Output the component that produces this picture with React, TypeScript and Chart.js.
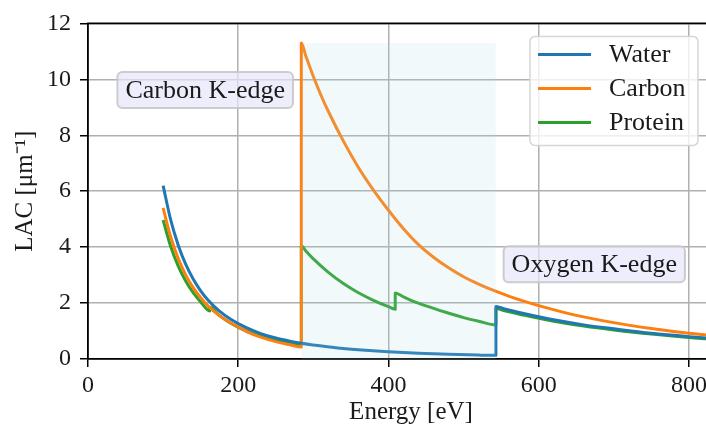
import React, { useEffect, useRef } from "react";
import { Chart, registerables } from "chart.js";

Chart.register(...registerables);

// ---- data ----
const waterEnergy = [100, 110, 120, 130, 140, 150, 160, 175, 190, 210, 230, 250, 270, 284, 300, 330, 360, 400, 440, 480, 520, 543, 543, 555, 580, 620, 660, 700, 750, 800, 860];
const waterLAC = [6.2, 4.98, 4.08, 3.39, 2.86, 2.44, 2.1, 1.71, 1.42, 1.13, 0.91, 0.75, 0.63, 0.56, 0.5, 0.4, 0.33, 0.26, 0.21, 0.17, 0.14, 0.13, 1.88, 1.79, 1.63, 1.4, 1.22, 1.08, 0.92, 0.8, 0.68];

const carbonEnergy = [100, 110, 120, 130, 140, 150, 160, 175, 190, 200, 210, 230, 250, 270, 284, 284, 290, 300, 310, 320, 340, 360, 380, 400, 420, 440, 460, 480, 500, 520, 540, 560, 580, 600, 650, 700, 750, 800, 860];
const carbonLAC = [5.4, 4.37, 3.6, 3.01, 2.55, 2.19, 1.89, 1.55, 1.29, 1.15, 1.0, 0.78, 0.62, 0.5, 0.43, 11.3, 10.83, 10.1, 9.44, 8.85, 7.79, 6.85, 6.04, 5.32, 4.66, 4.09, 3.64, 3.26, 2.94, 2.68, 2.45, 2.25, 2.07, 1.91, 1.56, 1.3, 1.09, 0.92, 0.77];

const proteinEnergy = [100, 110, 120, 130, 140, 150, 162, 162, 175, 190, 210, 230, 250, 270, 284, 284, 290, 300, 320, 340, 360, 380, 400, 409, 409, 420, 430, 450, 475, 500, 520, 543, 543, 555, 580, 620, 660, 700, 750, 800, 860];
const proteinLAC = [4.97, 4.03, 3.33, 2.79, 2.37, 2.04, 1.72, 1.85, 1.55, 1.28, 1.01, 0.82, 0.67, 0.56, 0.5, 4.05, 3.86, 3.58, 3.1, 2.7, 2.37, 2.1, 1.87, 1.78, 2.36, 2.22, 2.1, 1.9, 1.68, 1.48, 1.35, 1.22, 1.81, 1.72, 1.57, 1.35, 1.18, 1.04, 0.89, 0.77, 0.66];

// water window shading (carbon K-edge to oxygen K-edge)
const windowEnergy = [284, 543];
const windowLAC = [11.3, 11.3];

const seriesLabels = ["Water", "Carbon", "Protein"];
const seriesColors = ["#1f77b4", "#ff7f0e", "#2ca02c"];

const annotationTexts = ["Carbon K-edge", "Oxygen K-edge"];
const annotationEnergy = [156, 674];
const annotationLAC = [9.62, 3.39];

const xTicksMax = 860;
const yMax = 12;

const FONT = "'Liberation Serif', 'Times New Roman', serif";

function pts(xs: number[], ys: number[]) {
  return xs.map((x, i) => ({ x, y: ys[i] }));
}

function roundRect(ctx: CanvasRenderingContext2D, x: number, y: number, w: number, h: number, r: number) {
  ctx.beginPath();
  ctx.moveTo(x + r, y);
  ctx.lineTo(x + w - r, y);
  ctx.arcTo(x + w, y, x + w, y + r, r);
  ctx.lineTo(x + w, y + h - r);
  ctx.arcTo(x + w, y + h, x + w - r, y + h, r);
  ctx.lineTo(x + r, y + h);
  ctx.arcTo(x, y + h, x, y + h - r, r);
  ctx.lineTo(x, y + r);
  ctx.arcTo(x, y, x + r, y, r);
  ctx.closePath();
}

const decorPlugin = {
  id: "decor",
  afterDatasetsDraw(chart: any) {
    const ctx: CanvasRenderingContext2D = chart.ctx;
    const area = chart.chartArea;
    const xs = chart.scales.x;
    const ys = chart.scales.y;
    ctx.save();
    // top spine
    ctx.strokeStyle = "#000";
    ctx.lineWidth = 1.8;
    ctx.beginPath();
    ctx.moveTo(area.left - 0.9, area.top);
    ctx.lineTo(area.right, area.top);
    ctx.stroke();

    // annotations
    ctx.font = `26px ${FONT}`;
    ctx.textAlign = "center";
    ctx.textBaseline = "middle";
    annotationTexts.forEach((t, i) => {
      const cx = xs.getPixelForValue(annotationEnergy[i]);
      const cy = ys.getPixelForValue(annotationLAC[i]);
      const tw = ctx.measureText(t).width;
      const w = tw + 16;
      const h = 36;
      roundRect(ctx, cx - w / 2, cy - h / 2, w, h, 5);
      ctx.fillStyle = "rgba(230,230,250,0.7)";
      ctx.fill();
      ctx.strokeStyle = "rgba(200,200,200,0.9)";
      ctx.lineWidth = 2;
      ctx.stroke();
      ctx.fillStyle = "#1a1a1a";
      ctx.fillText(t, cx, cy + 1);
    });

    // legend
    const lx = area.left + 442;
    const ly = area.top + 13;
    const lw = 168;
    const lh = 109;
    roundRect(ctx, lx, ly, lw, lh, 5);
    ctx.fillStyle = "rgba(255,255,255,0.8)";
    ctx.fill();
    ctx.strokeStyle = "#d6d6d6";
    ctx.lineWidth = 1.5;
    ctx.stroke();
    ctx.textAlign = "left";
    ctx.textBaseline = "middle";
    seriesLabels.forEach((lab, i) => {
      const y = ly + 18 + i * 34;
      ctx.strokeStyle = seriesColors[i];
      ctx.lineWidth = 3;
      ctx.beginPath();
      ctx.moveTo(lx + 8, y);
      ctx.lineTo(lx + 61, y);
      ctx.stroke();
      ctx.fillStyle = "#1a1a1a";
      ctx.fillText(lab, lx + 79, y + 1);
    });
    ctx.restore();
  },
};

export default function App() {
  const ref = useRef<HTMLCanvasElement | null>(null);
  useEffect(() => {
    if (!ref.current) return;
    const lineDs = (i: number, xs: number[], ys: number[]) => ({
      label: seriesLabels[i],
      data: pts(xs, ys),
      borderColor: seriesColors[i],
      backgroundColor: seriesColors[i],
      borderWidth: 3,
      pointRadius: 0,
      cubicInterpolationMode: "monotone" as const,
      fill: false,
      borderJoinStyle: "round" as const,
    });
    const chart = new Chart(ref.current, {
      type: "line",
      data: {
        datasets: [
          {
            label: "",
            data: pts(windowEnergy, windowLAC),
            borderWidth: 0,
            borderColor: "rgba(0,0,0,0)",
            backgroundColor: "rgba(173,216,230,0.16)",
            pointRadius: 0,
            fill: "origin",
          },
          lineDs(0, waterEnergy, waterLAC),
          lineDs(1, carbonEnergy, carbonLAC),
          lineDs(2, proteinEnergy, proteinLAC),
        ],
      },
      options: {
        responsive: false,
        animation: false,
        devicePixelRatio: 1,
        layout: { padding: { top: 21, left: 0, right: 0, bottom: 0 } },
        plugins: {
          legend: { display: false },
          tooltip: { enabled: false },
        },
        scales: {
          x: {
            type: "linear",
            min: 0,
            max: xTicksMax,
            afterFit: (s: any) => {
              s.height = 72;
            },
            ticks: {
              stepSize: 200,
              includeBounds: false,
              color: "#1a1a1a",
              font: { family: FONT, size: 24 },
              padding: 4,
            },
            grid: {
              color: "#b0b0b0",
              lineWidth: 1.5,
              tickColor: "#000",
              tickLength: 8,
              tickWidth: 1.5,
            },
            border: { color: "#000", width: 1.8 },
            title: {
              display: true,
              text: "Energy [eV]",
              color: "#1a1a1a",
              font: { family: FONT, size: 25 },
              padding: { top: 0, bottom: 4 },
            },
          },
          y: {
            type: "linear",
            min: 0,
            max: yMax,
            afterFit: (s: any) => {
              s.width = 88;
            },
            ticks: {
              stepSize: 2,
              color: "#1a1a1a",
              font: { family: FONT, size: 24 },
              padding: 9,
            },
            grid: {
              color: "#b0b0b0",
              lineWidth: 1.5,
              tickColor: "#000",
              tickLength: 8,
              tickWidth: 1.5,
            },
            border: { color: "#000", width: 1.8 },
            title: {
              display: true,
              text: "LAC [μm⁻¹]",
              color: "#1a1a1a",
              font: { family: FONT, size: 25 },
              padding: { top: 10, bottom: 0 },
            },
          },
        },
      },
      plugins: [decorPlugin],
    } as any);
    return () => chart.destroy();
  }, []);

  return (
    <div
      style={{
        position: "fixed",
        left: 0,
        top: 0,
        width: 706,
        height: 431,
        overflow: "hidden",
        background: "#fff",
      }}
    >
      <canvas ref={ref} width={734} height={431} style={{ width: 734, height: 431, display: "block" }} />
    </div>
  );
}
